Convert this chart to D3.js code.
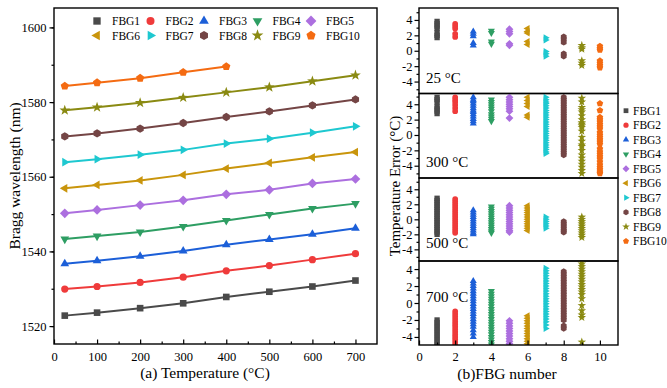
<!DOCTYPE html>
<html>
<head>
<meta charset="utf-8">
<script src="https://cdn.jsdelivr.net/npm/d3@7"></script>
<style>
  body { margin: 0; background: #fff; }
  svg text { font-family: "Liberation Serif", "Times New Roman", serif !important; fill: #000; }
</style>
</head>
<body>
<svg id="chart" width="667" height="388"></svg>
<script>
// ---- data ----
var temps = [25, 100, 200, 300, 400, 500, 600, 700];
var fbgNames = ["FBG1", "FBG2", "FBG3", "FBG4", "FBG5", "FBG6", "FBG7", "FBG8", "FBG9", "FBG10"];
var fbgColors = ["#4a4a4a", "#ef3b3b", "#1c5fd8", "#2e9e63", "#ac6fdf", "#c9950c", "#1ec8d0", "#744545", "#8a8a12", "#f46b12"];
var fbgShapes = ["square", "circle", "up", "down", "diamond", "left", "right", "hex", "star", "pent"];

// Bragg wavelength (nm) per grating
var wlFBG1 = [1522.8, 1523.6, 1524.8, 1526.1, 1527.8, 1529.2, 1530.6, 1532.2];
var wlFBG2 = [1529.9, 1530.6, 1531.7, 1533.1, 1534.8, 1536.2, 1537.8, 1539.4];
var wlFBG3 = [1536.7, 1537.5, 1538.7, 1540.1, 1541.8, 1543.2, 1544.6, 1546.2];
var wlFBG4 = [1543.3, 1544.1, 1545.2, 1546.7, 1548.3, 1549.9, 1551.5, 1552.8];
var wlFBG5 = [1550.2, 1551.1, 1552.4, 1553.7, 1555.3, 1556.5, 1558.2, 1559.4];
var wlFBG6 = [1556.9, 1557.8, 1559.0, 1560.5, 1562.2, 1563.7, 1565.2, 1566.6];
var wlFBG7 = [1563.9, 1564.7, 1565.9, 1567.2, 1568.9, 1570.2, 1571.8, 1573.5];
var wlFBG8 = [1570.8, 1571.6, 1572.9, 1574.4, 1576.0, 1577.5, 1579.1, 1580.7];
var wlFBG9 = [1577.8, 1578.6, 1579.8, 1581.2, 1582.6, 1584.0, 1585.6, 1587.2];
var wlFBG10 = [1584.3, 1585.2, 1586.4, 1588.0, 1589.5];

// temperature error (°C) per grating, one list per temperature
var err25 = [
    [3.8, 3.5, 3.2, 2.9, 2.3, 2.0, 1.7],
    [3.5, 3.2, 2.9, 2.2, 1.8],
    [2.5, 2.2, 1.9, 1.0, 0.7],
    [2.6, 2.3, 1.2, 0.9],
    [2.8, 2.5, 2.2, 0.9, 0.7],
    [2.9, 2.5, 2.3, 1.2, 0.8],
    [1.7, 1.4, -0.1, -0.4, -0.7],
    [1.8, 1.5, 1.1, -0.4, -0.7],
    [0.7, 0.4, 0.2, -1.3, -1.6, -1.9],
    [0.6, 0.3, 0.1, -1.3, -1.6, -1.9, -2.2]
];
var err300 = [
    [4.9, 4.6, 4.3, 3.7, 3.4, 3.1, 2.8],
    [4.9, 4.6, 4.3, 3.9, 3.5, 3.1],
    [4.9, 4.6, 4.4, 4.1, 3.8, 3.5, 3.2, 3.0, 2.7, 2.4, 2.1, 1.8, 1.5],
    [4.6, 4.3, 4.0, 3.7, 3.4, 3.1, 2.7, 2.4, 2.1, 1.8],
    [4.9, 4.6, 4.3, 4.0, 3.7, 3.4, 3.1, 2.2],
    [4.9, 4.5, 4.1, 3.7, 2.6, 2.3],
    [4.9, 4.6, 4.3, 4.1, 3.8, 3.5, 3.2, 2.9, 2.6, 2.3, 2.0, 1.7, 1.4, 1.1, 0.8, 0.5, 0.2, -0.1, -0.4, -0.7, -1.0, -1.3, -1.6, -1.9, -2.2, -2.4],
    [4.9, 4.6, 4.3, 4.0, 3.7, 3.4, 3.1, 2.8, 2.5, 2.2, 1.9, 1.6, 1.3, 1.0, 0.7, 0.4, 0.1, -0.2, -0.5, -0.8, -1.1, -1.4, -1.7, -2.0, -2.3, -2.6],
    [4.8, 4.3, 3.6, 3.3, 3.0, 2.5, 2.0, 1.6, 1.4, 1.2, 1.0, 0.5, -0.3, -0.8, -1.3, -1.5, -2.0, -2.6, -3.0, -3.4, -3.8, -4.2, -4.6, -5.0],
    [4.1, 3.2, 2.3, 2.0, 1.7, 1.4, 1.1, 0.8, 0.3, 0.0, -0.3, -0.6, -0.9, -1.2, -1.8, -2.2, -2.5, -2.8, -3.1, -3.5, -3.9, -4.2, -4.5, -4.8, -5.0]
];
var err500 = [
    [2.8, 2.5, 2.2, 1.9, 1.6, 1.3, 1.0, 0.7, 0.4, 0.1, -0.2, -0.5, -0.8, -1.1, -1.4, -1.7, -2.0],
    [2.7, 2.4, 2.1, 1.8, 1.5, 1.2, 0.9, 0.6, 0.3, 0.0, -0.3, -0.6, -0.9, -1.2, -1.5, -1.8],
    [1.2, 0.9, 0.6, 0.3, 0.0, -0.3, -0.6, -0.9, -1.2, -1.5, -1.8, -2.0],
    [1.7, 1.4, 1.1, 0.8, 0.5, 0.2, -0.1, -0.4, -0.7, -1.0, -1.3, -1.6, -1.8],
    [1.8, 1.5, 1.2, 0.9, 0.6, 0.3, 0.0, -0.3, -0.6, -0.9, -1.2, -1.5, -1.7],
    [1.8, 1.5, 1.2, 0.9, 0.6, 0.3, 0.0, -0.3, -0.6, -0.9, -1.2, -1.5],
    [0.3, 0.0, -0.3, -0.6, -0.9, -1.2],
    [-0.3, -0.6, -0.9, -1.2, -1.5, -1.7],
    [0.3, 0.0, -0.3, -0.6, -0.9, -1.2, -1.5, -1.8, -2.1, -2.4],
    []
];
var err700 = [
    [-2.0, -2.3, -2.6, -2.9, -3.2, -3.5, -3.8, -4.1, -4.4, -4.7, -5.0],
    [-1.0, -1.3, -1.6, -1.9, -2.2, -2.5, -2.8, -3.1, -3.4, -3.7, -4.0, -4.3, -4.6, -4.9],
    [2.6, 2.3, 2.0, 1.7, 1.4, 1.1, 0.8, 0.5, 0.2, -0.1, -0.4, -0.7, -1.0, -1.3, -1.6, -1.9, -2.2, -2.5, -2.8, -3.2, -3.6, -4.0],
    [1.4, 1.1, 0.8, 0.5, 0.2, -0.1, -0.4, -0.7, -1.0, -1.3, -1.6, -1.9, -2.2, -2.5, -2.8, -3.1, -3.4, -3.7, -4.0, -4.3, -4.6, -4.9],
    [-2.1, -2.4, -2.7, -3.0, -3.3, -3.6, -3.9, -4.2, -4.5, -4.8],
    [-1.5, -1.8, -2.1, -2.4, -2.7, -3.0, -3.3, -3.6, -3.9, -4.2, -4.5, -4.8],
    [4.1, 3.8, 3.5, 3.2, 2.9, 2.6, 2.3, 2.0, 1.7, 1.4, 1.1, 0.8, 0.5, 0.2, -0.1, -0.4, -0.7, -1.0, -1.3, -1.6, -1.9, -2.2, -2.6, -3.0],
    [3.7, 3.4, 3.1, 2.8, 2.5, 2.2, 1.9, 1.6, 1.3, 1.0, 0.7, 0.4, 0.1, -0.2, -0.5, -0.8, -1.1, -1.4, -1.7, -2.0, -2.7, -3.0],
    [4.9, 4.6, 4.3, 4.0, 3.7, 3.4, 3.1, 2.8, 2.5, 2.2, 1.9, 1.6, 1.3, 1.0, 0.5, -0.3, -0.9, -1.4, -1.7, -4.6],
    []
];
var panelLabels = ["25 °C", "300 °C", "500 °C", "700 °C"];

var wavelengths = [wlFBG1, wlFBG2, wlFBG3, wlFBG4, wlFBG5, wlFBG6, wlFBG7, wlFBG8, wlFBG9, wlFBG10];
var errorPanels = [err25, err300, err500, err700];

// ---- marker shapes ----
function poly(n, r, rotDeg) {
    var pts = [];
    for (var i = 0; i < n; i++) {
        var a = (rotDeg + i * 360 / n) * Math.PI / 180;
        pts.push([r * Math.cos(a), r * Math.sin(a)]);
    }
    return "M" + pts.map(function (p) { return p[0].toFixed(2) + "," + p[1].toFixed(2); }).join("L") + "Z";
}
function star(ro, ri) {
    var pts = [];
    for (var i = 0; i < 10; i++) {
        var a = (-90 + i * 36) * Math.PI / 180;
        var r = i % 2 ? ri : ro;
        pts.push([r * Math.cos(a), r * Math.sin(a)]);
    }
    return "M" + pts.map(function (p) { return p[0].toFixed(2) + "," + p[1].toFixed(2); }).join("L") + "Z";
}
function symPath(kind, r) {
    switch (kind) {
        case "square": return poly(4, r * 1.3, 45);
        case "circle": return "M" + r + ",0A" + r + "," + r + " 0 1,1 " + (-r) + ",0A" + r + "," + r + " 0 1,1 " + r + ",0Z";
        case "up": return poly(3, r * 1.4, -90);
        case "down": return poly(3, r * 1.4, 90);
        case "diamond": return poly(4, r * 1.35, -90);
        case "left": return poly(3, r * 1.4, 180);
        case "right": return poly(3, r * 1.4, 0);
        case "hex": return poly(6, r * 1.15, -90);
        case "star": return star(r * 1.55, r * 0.62);
        case "pent": return poly(5, r * 1.2, -90);
    }
}

var svg = d3.select("#chart");
var fmt = function (d) { return d < 0 ? "-" + Math.abs(d) : String(d); };

// ================= (a) wavelength vs temperature =================
var xL = d3.scaleLinear().domain([0, 750]).range([54, 377]);
var yL = d3.scaleLinear().domain([1515.2, 1605.2]).range([344, 8]);

var left = svg.append("g");

left.append("g")
    .attr("transform", "translate(0,344)")
    .call(d3.axisBottom(xL).tickValues(d3.range(50, 750, 100)).tickSize(-2.5).tickFormat(""));
left.append("g")
    .attr("class", "axis")
    .attr("transform", "translate(0,344)")
    .call(d3.axisBottom(xL).tickValues(d3.range(0, 701, 100)).tickSize(-4.5).tickPadding(8));
left.append("g")
    .attr("transform", "translate(54,0)")
    .call(d3.axisLeft(yL).tickValues([1520, 1530, 1540, 1550, 1560, 1570, 1580, 1590, 1600]).tickSize(2.5).tickFormat(""));
left.append("g")
    .attr("class", "axis")
    .attr("transform", "translate(54,0)")
    .call(d3.axisLeft(yL).tickValues([1520, 1540, 1560, 1580, 1600]).tickSize(4.5).tickPadding(3).tickFormat(d3.format("d")));

left.append("rect")
    .attr("x", 54).attr("y", 8)
    .attr("width", 323).attr("height", 336)
    .attr("fill", "none").attr("stroke", "#000").attr("stroke-width", 1.4);

var line = d3.line()
    .x(function (d, i) { return xL(temps[i]); })
    .y(function (d) { return yL(d); });

wavelengths.forEach(function (series, k) {
    var g = left.append("g");
    g.append("path")
        .attr("d", line(series))
        .attr("fill", "none")
        .attr("stroke", fbgColors[k])
        .attr("stroke-width", 2);
    g.selectAll("path.m")
        .data(series)
        .enter().append("path")
        .attr("class", "m")
        .attr("transform", function (d, i) { return "translate(" + xL(temps[i]) + "," + yL(d) + ")"; })
        .attr("d", symPath(fbgShapes[k], 3.6))
        .attr("fill", fbgColors[k]);
});

// legend, two rows of five
fbgNames.forEach(function (name, k) {
    var col = k % 5, row = Math.floor(k / 5);
    var lx = 97 + col * 53.5, ly = 21 + row * 14.5;
    left.append("path")
        .attr("transform", "translate(" + lx + "," + ly + ")")
        .attr("d", symPath(fbgShapes[k], 4))
        .attr("fill", fbgColors[k]);
    left.append("text")
        .attr("x", lx + 15).attr("y", ly + 4)
        .attr("font-size", "11.5px")
        .text(name);
});

left.append("text")
    .attr("transform", "translate(20,176) rotate(-90)")
    .attr("text-anchor", "middle")
    .attr("font-size", "15.5px")
    .text("Bragg wavelength (nm)");
left.append("text")
    .attr("x", 205).attr("y", 378)
    .attr("text-anchor", "middle")
    .attr("font-size", "15.5px")
    .text("(a) Temperature (°C)");

// ================= (b) temperature error vs FBG number =================
var xR = d3.scaleLinear().domain([0, 11]).range([419, 618]);
var bounds = [8, 93.5, 178, 261, 345];
var domains = [[-5.55, 5.55], [-5.6, 5.4], [-5.55, 5.5], [-4.95, 4.95]];
var labelY = [83, 167, 248, 302];

var right = svg.append("g");

errorPanels.forEach(function (panel, p) {
    var top = bounds[p], bottom = bounds[p + 1];
    var yR = d3.scaleLinear().domain(domains[p]).range([bottom, top]);
    var g = right.append("g");

    g.append("clipPath").attr("id", "clip" + p)
        .append("rect")
        .attr("x", 419).attr("y", top)
        .attr("width", 199).attr("height", bottom - top);

    var marks = g.append("g").attr("clip-path", "url(#clip" + p + ")");
    panel.forEach(function (vals, k) {
        marks.selectAll(null)
            .data(vals)
            .enter().append("path")
            .attr("transform", function (d) { return "translate(" + xR(k + 1) + "," + yR(d) + ")"; })
            .attr("d", symPath(fbgShapes[k], 2.9))
            .attr("fill", fbgColors[k]);
    });

    g.append("g")
        .attr("transform", "translate(419,0)")
        .call(d3.axisLeft(yR).tickValues([-5, -3, -1, 1, 3, 5].filter(function (v) { return yR(v) >= top && yR(v) <= bottom; })).tickSize(2.5).tickFormat(""));
    g.append("g")
        .attr("class", "axis")
        .attr("transform", "translate(419,0)")
        .call(d3.axisLeft(yR).tickValues([-4, -2, 0, 2, 4]).tickSize(4.5).tickPadding(2).tickFormat(fmt));

    g.append("rect")
        .attr("x", 419).attr("y", top)
        .attr("width", 199).attr("height", bottom - top)
        .attr("fill", "none").attr("stroke", "#000").attr("stroke-width", 1.4);

    g.append("text")
        .attr("x", 426).attr("y", labelY[p])
        .attr("font-size", "15px")
        .text(panelLabels[p]);
});

right.append("g")
    .attr("transform", "translate(0,345)")
    .call(d3.axisBottom(xR).tickValues([1, 3, 5, 7, 9]).tickSize(-2.5).tickFormat(""));
right.append("g")
    .attr("class", "axis")
    .attr("transform", "translate(0,345)")
    .call(d3.axisBottom(xR).tickValues([0, 2, 4, 6, 8, 10]).tickSize(-4.5).tickPadding(7));

// legend column
fbgNames.forEach(function (name, k) {
    var ly = 110.7 + k * 14.5;
    right.append("path")
        .attr("transform", "translate(626," + ly + ")")
        .attr("d", symPath(fbgShapes[k], 2.6))
        .attr("fill", fbgColors[k]);
    right.append("text")
        .attr("x", 633).attr("y", ly + 4)
        .attr("font-size", "11.5px")
        .text(name);
});

right.append("text")
    .attr("transform", "translate(400,186) rotate(-90)")
    .attr("text-anchor", "middle")
    .attr("font-size", "15px")
    .text("Temperature Error (°C)");
right.append("text")
    .attr("x", 507).attr("y", 379)
    .attr("text-anchor", "middle")
    .attr("font-size", "15.5px")
    .text("(b)FBG number");

// axis styling
svg.selectAll(".domain").attr("stroke", "none");
svg.selectAll(".tick line").attr("stroke", "#000").attr("stroke-width", 1.2);
svg.selectAll(".axis text")
    .attr("font-size", "12.5px");
</script>
</body>
</html>
